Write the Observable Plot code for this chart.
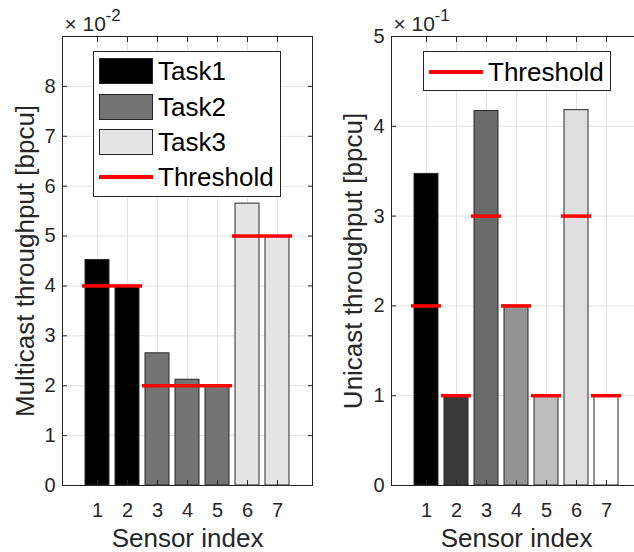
<!DOCTYPE html>
<html>
<head>
<meta charset="utf-8">
<script src="https://cdn.jsdelivr.net/npm/d3@7"></script>
<script src="https://cdn.jsdelivr.net/npm/@observablehq/plot@0.6"></script>
<style>
  html, body { margin: 0; padding: 0; background: #fff; }
  #wrap { position: relative; width: 634px; height: 552px; overflow: hidden; background: #fff;
          font-family: "Liberation Sans", Arial, Helvetica, sans-serif; }
  .panel { position: absolute; top: 0; }
  .panel svg { max-width: none !important; }
  .legend { position: absolute; background: #fff; border: 1px solid #262626; box-sizing: border-box; }
  .swatch { position: absolute; box-sizing: border-box; border: 1px solid #262626; }
  .line { position: absolute; height: 4px; background: #ff0000; }
  .ltext { position: absolute; font-size: 26px; color: #000; line-height: 26px; white-space: nowrap; }
</style>
</head>
<body>
<div id="wrap">
  <div id="left" class="panel" style="left:0px;width:320px"></div>
  <div id="right" class="panel" style="left:320px;width:330px"></div>
</div>
<script>
// ---- data ----
const sensors = [1, 2, 3, 4, 5, 6, 7];
const multicastTask = ["Task1", "Task1", "Task2", "Task2", "Task2", "Task3", "Task3"];
const multicastValue = [4.52, 4.0, 2.65, 2.12, 2.0, 5.65, 5.0];      // x 10^-2 bpcu
const multicastThreshold = [4, 4, 2, 2, 2, 5, 5];                    // x 10^-2 bpcu
const unicastValue = [3.47, 1.0, 4.17, 2.0, 1.0, 4.18, 1.0];         // x 10^-1 bpcu
const unicastThreshold = [2, 1, 3, 2, 1, 3, 1];                      // x 10^-1 bpcu
const multicastTicks = [0, 1, 2, 3, 4, 5, 6, 7, 8];
const unicastTicks = [0, 1, 2, 3, 4, 5];
const tasks = ["Task1", "Task2", "Task3"];
const legendLabels = ["Task1", "Task2", "Task3", "Threshold"];

// ---- styles ----
const FONT = "Liberation Sans, Arial, Helvetica, sans-serif";
const taskColors = ["#000000", "#737373", "#e5e5e5"];
const sensorColors = ["#000000", "#393939", "#6b6b6b", "#939393", "#bdbdbd", "#dfdfdf", "#ffffff"];
const AX = "#262626";
const GRID = "#e3e3e3";

const multicastData = sensors.map((s, i) => ({sensor: s, task: multicastTask[i], value: multicastValue[i], threshold: multicastThreshold[i]}));
const unicastData = sensors.map((s, i) => ({sensor: s, value: unicastValue[i], threshold: unicastThreshold[i]}));

function panel({data, yDomain, yTicks, yLabel, fill, color, width, marginLeft, marginRight, labelDx, expMain, expSup}) {
  return Plot.plot({
    width, height: 552, marginLeft, marginRight, marginTop: 36, marginBottom: 67,
    style: {fontFamily: FONT, fontSize: "20px", color: AX, background: "transparent", overflow: "visible", maxWidth: "none"},
    x: {type: "band", domain: sensors, paddingInner: 0.2, paddingOuter: 0.757},
    y: {domain: yDomain},
    color,
    marks: [
      Plot.gridX(sensors, {stroke: GRID, strokeOpacity: 1}),
      Plot.gridY(yTicks, {stroke: GRID, strokeOpacity: 1}),
      Plot.barY(data, {x: "sensor", y: "value", fill, stroke: "#2a2a2a", strokeWidth: 1}),
      Plot.tickY(data, {x: "sensor", y: "threshold", stroke: "#ff0000", strokeWidth: 3.5, insetLeft: -3, insetRight: -3}),
      Plot.frame({stroke: AX}),
      // tick labels
      Plot.axisX(sensors, {anchor: "bottom", tickSize: 0, tickPadding: 17, label: null, fill: AX, fontSize: 20, tickFormat: d3.format("d")}),
      Plot.axisY(yTicks, {anchor: "left", tickSize: 0, tickPadding: 7, label: null, fill: AX, fontSize: 20, tickFormat: d3.format("d")}),
      // inward ticks
      Plot.axisX(sensors, {anchor: "bottom", tickSize: -5, tickFormat: () => "", label: null, stroke: AX}),
      Plot.axisX(sensors, {anchor: "top", tickSize: -5, tickFormat: () => "", label: null, stroke: AX}),
      Plot.axisY(yTicks, {anchor: "left", tickSize: -5, tickFormat: () => "", label: null, stroke: AX}),
      Plot.axisY(yTicks, {anchor: "right", tickSize: -5, tickFormat: () => "", label: null, stroke: AX}),
      // axis titles
      Plot.text([yLabel], {frameAnchor: "left", rotate: -90, dx: labelDx, fontSize: 26, fill: AX, textAnchor: "middle", lineAnchor: "middle"}),
      Plot.text(["Sensor index"], {frameAnchor: "bottom", dy: 53, fontSize: 26, fill: AX, textAnchor: "middle", lineAnchor: "middle"}),
      // exponent
      Plot.text([expMain], {frameAnchor: "top-left", dx: 2, dy: -12, fontSize: 21, fill: AX, textAnchor: "start", lineAnchor: "middle"}),
      Plot.text([expSup], {frameAnchor: "top-left", dx: 43, dy: -21, fontSize: 17, fill: AX, textAnchor: "start", lineAnchor: "middle"})
    ]
  });
}

const left = panel({
  data: multicastData, yDomain: [0, 9], yTicks: multicastTicks,
  yLabel: "Multicast throughput [bpcu]", fill: "task",
  color: {type: "ordinal", domain: tasks, range: taskColors},
  width: 320, marginLeft: 62, marginRight: 8, labelDx: -37,
  expMain: "× 10", expSup: "-2"
});
document.getElementById("left").appendChild(left);

const right = panel({
  data: unicastData, yDomain: [0, 5], yTicks: unicastTicks,
  yLabel: "Unicast throughput [bpcu]", fill: "sensor",
  color: {type: "ordinal", domain: sensors, range: sensorColors},
  width: 330, marginLeft: 71, marginRight: 9, labelDx: -38,
  expMain: "× 10", expSup: "-1"
});
document.getElementById("right").appendChild(right);

// ---- legends (HTML overlay) ----
function buildLegend({left, top, width, height, entries}) {
  const box = document.createElement("div");
  box.className = "legend";
  Object.assign(box.style, {left: left + "px", top: top + "px", width: width + "px", height: height + "px"});
  entries.forEach((e) => {
    const cy = e.cy;
    if (e.type === "swatch") {
      const sw = document.createElement("div");
      sw.className = "swatch";
      Object.assign(sw.style, {left: "5px", top: (cy - 13) + "px", width: "54px", height: "26px", background: e.color});
      box.appendChild(sw);
    } else {
      const ln = document.createElement("div");
      ln.className = "line";
      Object.assign(ln.style, {left: "5px", top: (cy - 2) + "px", width: "54px"});
      box.appendChild(ln);
    }
    const t = document.createElement("div");
    t.className = "ltext";
    t.textContent = e.label;
    Object.assign(t.style, {left: "64px", top: (cy - 13) + "px"});
    box.appendChild(t);
  });
  document.getElementById("wrap").appendChild(box);
}

buildLegend({
  left: 93, top: 51, width: 188, height: 146,
  entries: legendLabels.map((lab, i) => i < tasks.length
    ? {type: "swatch", color: taskColors[i], label: lab, cy: 19 + i * 35.5}
    : {type: "line", label: lab, cy: 19 + i * 35.5 - 0.5})
});
buildLegend({
  left: 423, top: 51, width: 188, height: 40,
  entries: [{type: "line", label: legendLabels[3], cy: 19.5}]
});
</script>
</body>
</html>
